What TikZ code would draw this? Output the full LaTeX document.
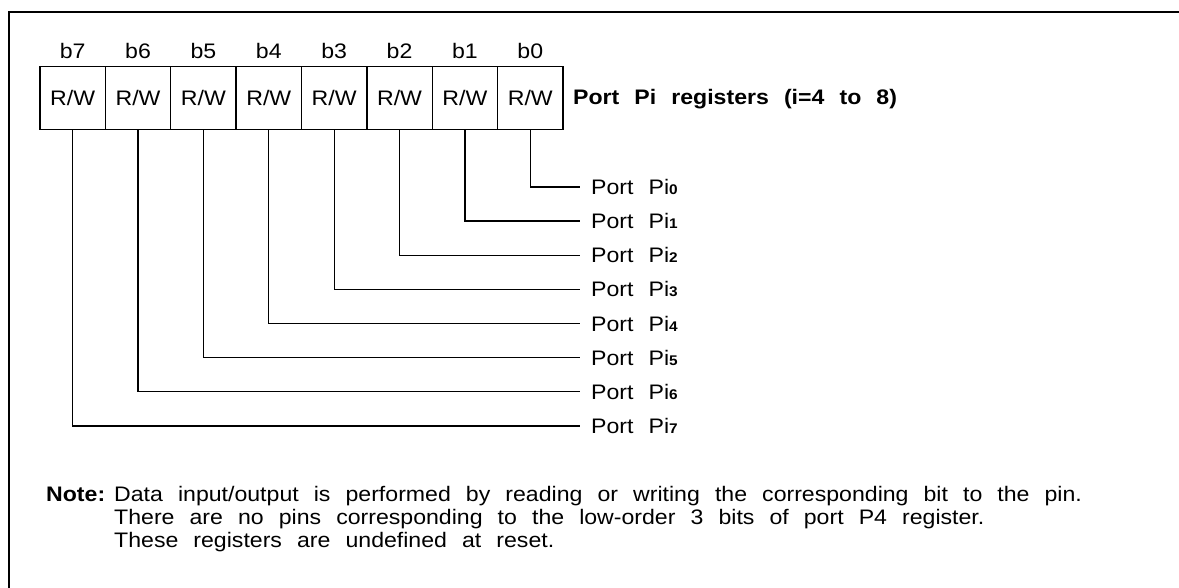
\documentclass[tikz,border=0pt]{standalone}
\usepackage{fontspec}
\setmainfont{Liberation Sans}[FakeStretch=1.1,WordSpace=2.35]
\begin{document}
\begin{tikzpicture}[x=1pt,y=-1pt,
  frame/.style={line width=2.6pt},
  txt/.style={font=\fontsize{21}{21}\selectfont},
  regbox/.style={txt,draw,line width=1.3pt,minimum width=65.375pt,minimum height=63pt,inner sep=0pt},
  bitlbl/.style={txt,inner sep=0pt},
  conn/.style={line width=1.3pt},
  portlbl/.style={txt,anchor=west,inner sep=0pt},
  notetxt/.style={txt,anchor=base west,inner sep=0pt}]
\useasboundingbox (0,0) rectangle (1179,588);
\draw[frame] (9,590) -- (9,12) -- (1181,12);
\foreach \k in {0,...,7}{
  \pgfmathsetmacro{\cx}{40+65.375*(7-\k)+32.6875}
  \node[regbox] (r\k) at (\cx,98) {R/W};
  \node[bitlbl] (b\k) at (\cx,51) {b\k};
  \pgfmathsetmacro{\py}{187+34.14*\k}
  \coordinate (e\k) at (580,\py);
  \node[portlbl] (p\k) at (591,\py) {Port Pi{\fontsize{14}{14}\selectfont\bfseries\k}};
  \draw[conn] (r\k.south) |- (e\k);
}
\node[txt,anchor=west,inner sep=0pt,font=\fontsize{21}{21}\selectfont\bfseries] (title) at (573,99.5) {Port Pi registers (i=4 to 8)};
\node[notetxt,font=\fontsize{21}{21}\selectfont\bfseries] (note) at (46,501) {Note:};
\node[notetxt] (n1) at (114,501) {Data input/output is performed by reading or writing the corresponding bit to the pin.};
\node[notetxt] (n2) at (114,524) {There are no pins corresponding to the low-order 3 bits of port P4 register.};
\node[notetxt] (n3) at (114,547) {These registers are undefined at reset.};
\end{tikzpicture}
\end{document}
